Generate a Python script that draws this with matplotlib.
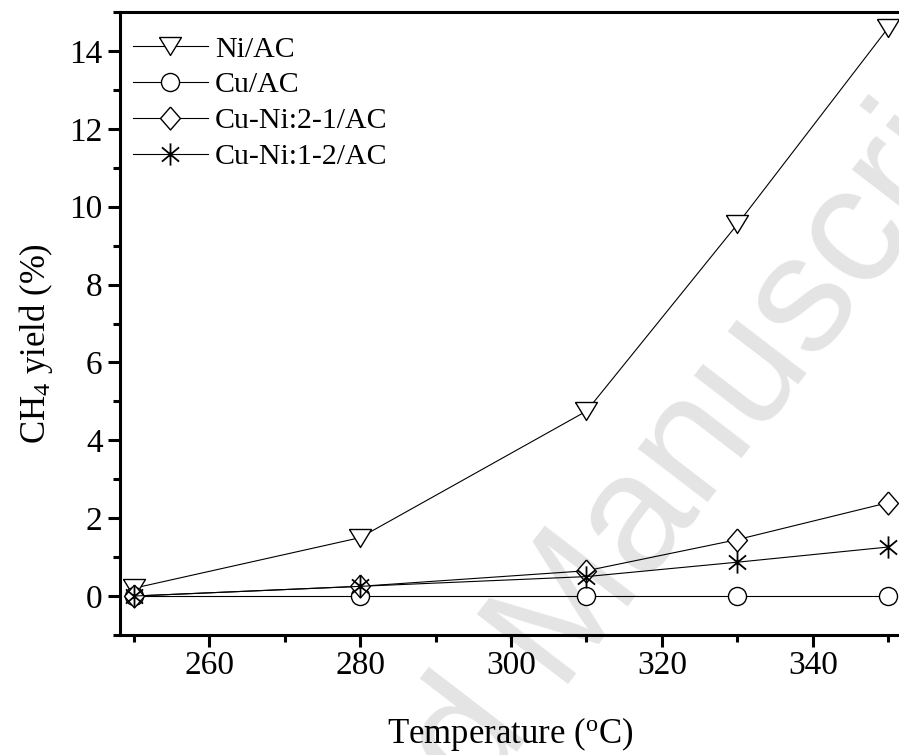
#!/usr/bin/env python3

from matplotlib import pyplot as plt
from matplotlib.path import Path
from matplotlib.ticker import MultipleLocator


temps = [250, 280, 310, 330, 350]  # oC
ni_ac = [0.2, 1.5, 4.75, 9.55, 14.6]
cu_ac = [0.0, 0.0, 0.0, 0.0, 0.0]
cuni_21 = [0.0, 0.25, 0.65, 1.45, 2.4]
cuni_12 = [0.0, 0.25, 0.5, 0.87, 1.26]

labels = ['Ni/AC', 'Cu/AC', 'Cu-Ni:2-1/AC', 'Cu-Ni:1-2/AC']


plt.rcParams['font.family'] = 'Liberation Serif'
plt.rcParams['mathtext.fontset'] = 'custom'
plt.rcParams['mathtext.rm'] = 'Liberation Serif'
plt.rcParams['mathtext.it'] = 'Liberation Serif:italic'

# origin-like markers
tri_down = [(-1, 0.82), (1, 0.82), (0, -0.82), (-1, 0.82)]
diamond = [(0, 1), (0.87, 0), (0, -1), (-0.87, 0), (0, 1)]
star = Path([(0, -1), (0, 1), (-0.77, -0.64), (0.77, 0.64), (-0.77, 0.64), (0.77, -0.64)],
            [Path.MOVETO, Path.LINETO] * 3)

W, H = 899, 755
fig = plt.figure(figsize=(W / 100, H / 100), dpi=100)
ax = fig.add_axes([120 / W, 1 - 635 / H, 785 / W, 623 / H])
ax.patch.set_alpha(0)

# watermark behind everything
fig.text(583 / W, 1 - 665 / H, 'Accepted Manuscript', family='Liberation Sans',
         fontsize=120, color='#e4e4e4', rotation=52.5, rotation_mode='anchor',
         ha='center', va='baseline', zorder=-1)

style = dict(color='black', linewidth=0.8, mfc='white', mec='black', mew=1.0)
ax.plot(temps, ni_ac, marker=tri_down, markersize=15.8, label=labels[0], **style)
ax.plot(temps, cu_ac, marker='o', markersize=13, label=labels[1], **style)
ax.plot(temps, cuni_21, marker=diamond, markersize=16.5, label=labels[2], **style)
ax.plot(temps, cuni_12, marker=star, markersize=16, label=labels[3],
        color='black', linewidth=0.8, mfc='none', mec='black', mew=1.3)

ax.set_xlim(248.2, 352.2)
ax.set_ylim(-1, 15)
ax.xaxis.set_major_locator(MultipleLocator(20))
ax.xaxis.set_minor_locator(MultipleLocator(10))
ax.yaxis.set_major_locator(MultipleLocator(2))
ax.yaxis.set_minor_locator(MultipleLocator(1))

for side in ['left', 'bottom', 'top', 'right']:
    ax.spines[side].set_linewidth(2.2)
ax.tick_params(which='both', direction='out', width=2.2, top=False, right=False,
               labelsize=24)
ax.tick_params(which='major', length=8.5)
ax.tick_params(which='minor', length=5)
ax.tick_params(axis='x', which='major', pad=3)
ax.tick_params(axis='y', which='major', pad=4)

ax.set_xlabel(r'Temperature ($^\mathrm{o}$C)', fontsize=25)
ax.xaxis.label.set_verticalalignment('baseline')
ax.xaxis.set_label_coords(0.497, -0.173)
ax.set_ylabel(r'CH$_\mathrm{4}$ yield (%)', fontsize=25)
ax.yaxis.set_label_coords(-0.083, 0.468)

ax.legend(loc='upper left', bbox_to_anchor=(13 / 785, 0.962), frameon=False,
          fontsize=21.5, numpoints=1, handlelength=2.5, handletextpad=0.25,
          labelspacing=0.3, borderpad=0, borderaxespad=0)

plt.savefig('out.png', dpi=100)
